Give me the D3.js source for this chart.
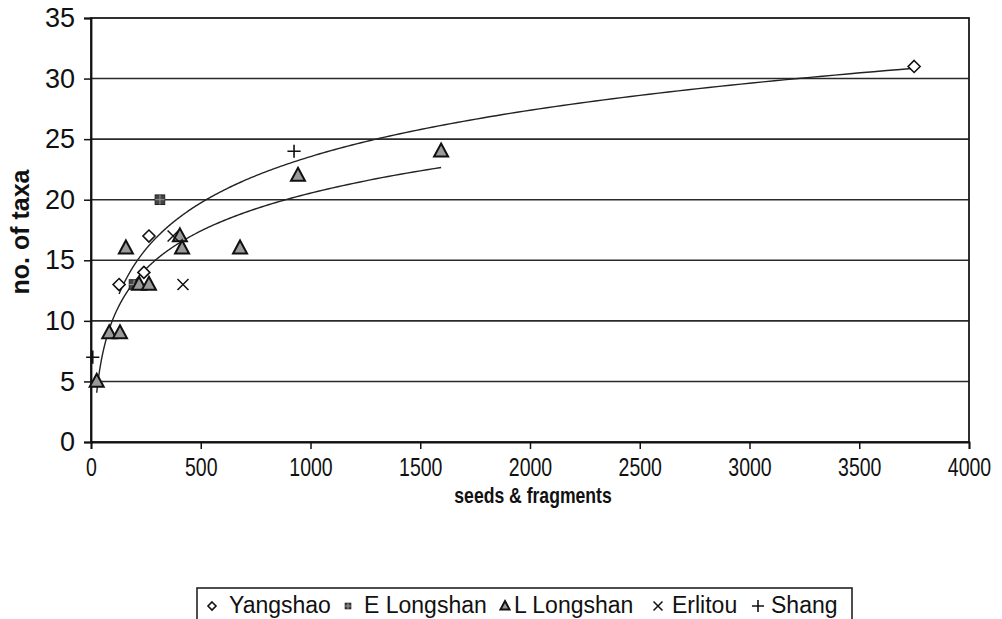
<!DOCTYPE html>
<html>
<head>
<meta charset="utf-8">
<script src="https://cdn.jsdelivr.net/npm/d3@7"></script>
<style>
  html, body { margin: 0; padding: 0; background: #fff; }
  svg { display: block; font-family: "Liberation Sans", Arial, sans-serif; }
</style>
</head>
<body>
<svg id="chart" width="1002" height="619"></svg>
<script>
// Sample groups: seeds & fragments counted vs. number of taxa identified
const yangshaoX = [128, 241, 264, 3750];
const yangshaoY = [13, 14, 17, 31];

const eLongshanX = [196, 314];
const eLongshanY = [13, 20];

const lLongshanX = [26, 83, 132, 159, 219, 264, 405, 415, 679, 943, 1595];
const lLongshanY = [5, 9, 9, 16, 13, 13, 17, 16, 16, 22, 24];

const erlitouX = [374, 419];
const erlitouY = [17, 13];

const shangX = [8, 925];
const shangY = [7, 24];

const xTicks = [0, 500, 1000, 1500, 2000, 2500, 3000, 3500, 4000];
const yTicks = [0, 5, 10, 15, 20, 25, 30, 35];

const seriesNames = ["Yangshao", "E Longshan", "L Longshan", "Erlitou", "Shang"];

const svg = d3.select("#chart");
const plot = { left: 91, right: 969, top: 18, bottom: 442 };

const x = d3.scaleLinear().domain([0, 4000]).range([plot.left, plot.right]);
const y = d3.scaleLinear().domain([0, 35]).range([plot.bottom, plot.top]);

// Horizontal gridlines
svg.append("g")
  .selectAll("line")
  .data(yTicks.filter(t => t > 0 && t < 35))
  .join("line")
  .attr("x1", plot.left).attr("x2", plot.right)
  .attr("y1", d => y(d)).attr("y2", d => y(d))
  .attr("stroke", "#2a2a2a").attr("stroke-width", 1.6);

// Plot frame
svg.append("rect")
  .attr("x", plot.left).attr("y", plot.top)
  .attr("width", plot.right - plot.left).attr("height", plot.bottom - plot.top)
  .attr("fill", "none").attr("stroke", "#1a1a1a").attr("stroke-width", 1.8);

// Axes
const xAxis = d3.axisBottom(x).tickValues(xTicks).tickSize(7).tickPadding(9).tickFormat(d3.format("d"));
const yAxis = d3.axisLeft(y).tickValues(yTicks).tickSize(7).tickPadding(9).tickFormat(d3.format("d"));

const gx = svg.append("g").attr("transform", `translate(0,${plot.bottom})`).call(xAxis);
const gy = svg.append("g").attr("transform", `translate(${plot.left},0)`).call(yAxis);
[gx, gy].forEach(g => {
  g.select(".domain").attr("stroke", "#111").attr("stroke-width", 1.8);
  g.selectAll(".tick line").attr("stroke", "#111").attr("stroke-width", 1.5);
  g.selectAll(".tick text").attr("fill", "#111");
});
// x tick labels are set in a tall, condensed face
gx.selectAll(".tick text").style("font-size", "25px").attr("transform", "scale(0.78,1)");
gy.selectAll(".tick text").style("font-size", "27px");

// Axis titles
const xTitleX = (plot.left + plot.right) / 2 + 3;
svg.append("text")
  .attr("transform", `translate(${xTitleX},503) scale(0.8,1)`)
  .attr("text-anchor", "middle")
  .style("font-size", "22px").style("font-weight", "bold").attr("fill", "#111")
  .text("seeds & fragments");

svg.append("text")
  .attr("transform", `translate(29,${232}) rotate(-90)`)
  .attr("text-anchor", "middle")
  .style("font-size", "25px").style("font-weight", "bold").attr("fill", "#111")
  .text("no. of taxa");

// Logarithmic least-squares trendline y = a*ln(x) + b
function logFit(xs, ys) {
  const lx = xs.map(Math.log);
  const mx = d3.mean(lx), my = d3.mean(ys);
  let sxy = 0, sxx = 0;
  lx.forEach((v, i) => { sxy += (v - mx) * (ys[i] - my); sxx += (v - mx) * (v - mx); });
  const a = sxy / sxx;
  return { a, b: my - a * mx, x0: d3.min(xs), x1: d3.max(xs) };
}

const line = d3.line().x(d => x(d[0])).y(d => y(d[1]));
[logFit(yangshaoX, yangshaoY), logFit(lLongshanX, lLongshanY)].forEach(f => {
  const pts = d3.range(0, 201).map(i => {
    const xv = Math.exp(Math.log(f.x0) + (Math.log(f.x1) - Math.log(f.x0)) * i / 200);
    return [xv, f.a * Math.log(xv) + f.b];
  });
  svg.append("path").datum(pts).attr("d", line)
    .attr("fill", "none").attr("stroke", "#222").attr("stroke-width", 1.4);
});

// Marker shapes
const markers = {
  "Yangshao": (g, s) => g.append("path")
      .attr("d", `M0,${-s}L${s},0L0,${s}L${-s},0Z`)
      .attr("fill", "#fff").attr("stroke", "#111").attr("stroke-width", 1.6),
  "E Longshan": (g, s) => {
    g.append("rect").attr("x", -s * 0.8).attr("y", -s * 0.8)
      .attr("width", s * 1.6).attr("height", s * 1.6)
      .attr("fill", "#444").attr("stroke", "#222").attr("stroke-width", 1);
    g.append("path")
      .attr("d", `M${-s * 0.8},0H${s * 0.8}M0,${-s * 0.8}V${s * 0.8}`)
      .attr("stroke", "#999").attr("stroke-width", 1);
  },
  "L Longshan": (g, s) => g.append("path")
      .attr("d", `M0,${-s * 1.1}L${s},${s * 0.75}L${-s},${s * 0.75}Z`)
      .attr("fill", "#9a9a9a").attr("stroke", "#111").attr("stroke-width", 2),
  "Erlitou": (g, s) => g.append("path")
      .attr("d", `M${-s},${-s}L${s},${s}M${-s},${s}L${s},${-s}`)
      .attr("stroke", "#111").attr("stroke-width", 1.5),
  "Shang": (g, s) => g.append("path")
      .attr("d", `M${-s * 1.1},0H${s * 1.1}M0,${-s * 1.1}V${s * 1.1}`)
      .attr("stroke", "#111").attr("stroke-width", 1.6)
};

const series = [
  { name: "Yangshao", xs: yangshaoX, ys: yangshaoY, size: 6 },
  { name: "E Longshan", xs: eLongshanX, ys: eLongshanY, size: 6 },
  { name: "L Longshan", xs: lLongshanX, ys: lLongshanY, size: 7 },
  { name: "Erlitou", xs: erlitouX, ys: erlitouY, size: 5.5 },
  { name: "Shang", xs: shangX, ys: shangY, size: 6 }
];

series.forEach(sr => {
  const g = svg.append("g");
  sr.xs.forEach((xv, i) => {
    const m = g.append("g").attr("transform", `translate(${x(xv)},${y(sr.ys[i])})`);
    markers[sr.name](m, sr.size);
  });
});

// Legend
const legend = svg.append("g");
legend.append("rect")
  .attr("x", 197).attr("y", 588).attr("width", 655).attr("height", 40)
  .attr("fill", "#fff").attr("stroke", "#222").attr("stroke-width", 1.6);

const legendMarkerX = [212, 348, 505, 658, 758];
const legendTextX = [229, 364, 514, 672, 771];
const legendSizes = [4, 3.5, 4.5, 4.5, 5.5];
seriesNames.forEach((name, i) => {
  const m = legend.append("g").attr("transform", `translate(${legendMarkerX[i]},606)`);
  markers[name](m, legendSizes[i]);
  legend.append("text")
    .attr("x", legendTextX[i]).attr("y", 613)
    .style("font-size", "23px").attr("fill", "#111")
    .text(name);
});
</script>
</body>
</html>
